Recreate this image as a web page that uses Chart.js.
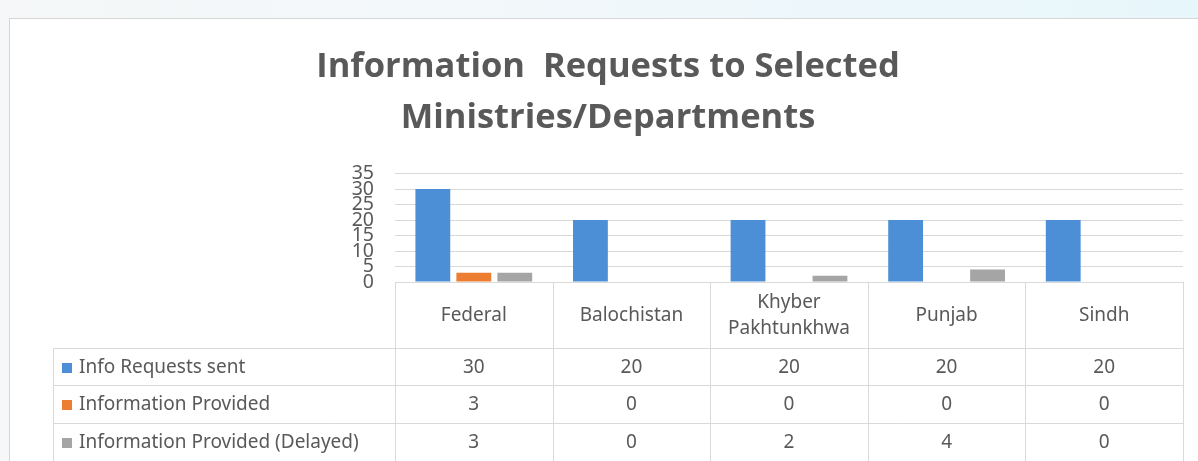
<!DOCTYPE html>
<html>
<head>
<meta charset="utf-8">
<script src="https://cdn.jsdelivr.net/npm/chart.js@4.4.1/dist/chart.umd.min.js"></script>
<style>
  html, body { margin: 0; padding: 0; }
  body {
    width: 1198px; height: 461px; overflow: hidden; position: relative;
    background: linear-gradient(to right, #f5f7f8 0%, #f3f8fa 40%, #e7f6fb 100%);
  }
  #card {
    position: absolute; left: 9px; top: 18px; width: 1200px; height: 460px;
    background: #fff; border-left: 1px solid #d6d6d6; border-top: 1px solid #d6d6d6;
  }
  #wrap { position: absolute; left: 0; top: 0; width: 1198px; height: 461px; }
</style>
</head>
<body>
<div id="card"></div>
<div id="wrap"><canvas id="chart"></canvas></div>
<script>
// chart data
const categories = ['Federal', 'Balochistan', ['Khyber', 'Pakhtunkhwa'], 'Punjab', 'Sindh'];
const seriesNames = ['Info Requests sent', 'Information Provided', 'Information Provided (Delayed)'];
const requestsSent = [30, 20, 20, 20, 20];
const infoProvided = [3, 0, 0, 0, 0];
const infoDelayed = [3, 0, 2, 4, 0];
const yMax = 35;
const yStep = 5;

const colors = ['#4c8fd6', '#ed7d31', '#a5a5a5'];
const textColor = '#595959';
const lineColor = '#d9d9d9';

// draws the data table under the plot, using the x scale for columns
const dataTable = {
  id: 'dataTable',
  afterDraw(chart) {
    const ctx = chart.ctx;
    const area = chart.chartArea;
    const n = categories.length;
    const colW = (area.right - area.left) / n;
    const top = area.bottom;
    const rowTops = [348, 385, 423];
    const bottom = chart.height;
    const tableLeft = 53;

    ctx.save();
    ctx.strokeStyle = lineColor;
    ctx.lineWidth = 1;
    ctx.beginPath();
    for (let i = 0; i <= n; i++) {
      const x = Math.round(area.left + i * colW) + 0.5;
      ctx.moveTo(x, top);
      ctx.lineTo(x, bottom);
    }
    ctx.moveTo(tableLeft + 0.5, rowTops[0]);
    ctx.lineTo(tableLeft + 0.5, bottom);
    rowTops.forEach(y => {
      ctx.moveTo(tableLeft, y + 0.5);
      ctx.lineTo(area.right, y + 0.5);
    });
    ctx.stroke();

    ctx.fillStyle = textColor;
    ctx.font = '19px "Noto Sans"';
    ctx.textAlign = 'center';
    ctx.textBaseline = 'middle';

    // header row
    const headMid = (top + rowTops[0]) / 2 + 1;
    categories.forEach((c, i) => {
      const cx = chart.scales.x.getPixelForValue(i);
      if (Array.isArray(c)) {
        ctx.fillText(c[0], cx, headMid - 13);
        ctx.fillText(c[1], cx, headMid + 13);
      } else {
        ctx.fillText(c, cx, headMid);
      }
    });

    // series rows
    chart.data.datasets.forEach((ds, r) => {
      const y0 = rowTops[r];
      const y1 = r + 1 < rowTops.length ? rowTops[r + 1] : bottom;
      const cy = (y0 + y1) / 2 + 1;
      ctx.fillStyle = ds.backgroundColor;
      ctx.fillRect(62, Math.round(cy - 5), 10, 10);
      ctx.fillStyle = textColor;
      ctx.textAlign = 'left';
      ctx.fillText(ds.label, 79, cy);
      ctx.textAlign = 'center';
      ds.data.forEach((v, i) => {
        ctx.fillText(String(v), chart.scales.x.getPixelForValue(i), cy);
      });
    });
    ctx.restore();
  }
};

new Chart(document.getElementById('chart'), {
  type: 'bar',
  data: {
    labels: categories,
    datasets: [
      { label: seriesNames[0], data: requestsSent, backgroundColor: colors[0] },
      { label: seriesNames[1], data: infoProvided, backgroundColor: colors[1] },
      { label: seriesNames[2], data: infoDelayed, backgroundColor: colors[2] }
    ]
  },
  options: {
    responsive: true,
    maintainAspectRatio: false,
    animation: false,
    categoryPercentage: 0.78,
    barPercentage: 0.85,
    layout: { padding: { left: 33, right: 15, top: 41, bottom: 179 } },
    plugins: {
      legend: { display: false },
      tooltip: { enabled: false },
      title: {
        display: true,
        text: ['Information  Requests to Selected', 'Ministries/Departments'],
        color: textColor,
        font: { family: '"Open Sans", sans-serif', size: 34.5, weight: 'bold', lineHeight: 1.5 },
        padding: { top: 0, bottom: 29 }
      }
    },
    scales: {
      x: { display: false },
      y: {
        min: 0,
        max: yMax,
        afterFit(scale) { scale.width = 362; },
        border: { display: false },
        grid: { color: lineColor, drawTicks: false },
        ticks: {
          stepSize: yStep,
          autoSkip: false,
          padding: 21,
          color: textColor,
          font: { family: '"Noto Sans"', size: 19.5 }
        }
      }
    }
  },
  plugins: [dataTable]
});
</script>
</body>
</html>
